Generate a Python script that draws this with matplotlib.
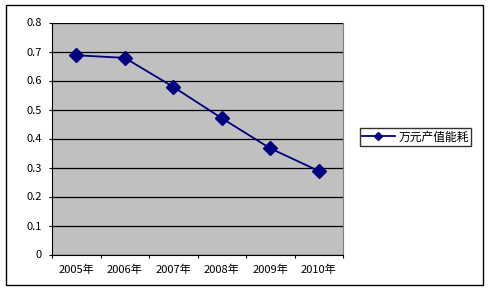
import matplotlib
matplotlib.use("Agg")
import matplotlib.pyplot as plt
from matplotlib.patches import Rectangle

plt.rcParams['font.family'] = ['Noto Sans CJK SC', 'DejaVu Sans']

categories = ["2005年", "2006年", "2007年", "2008年", "2009年", "2010年"]
values = [0.687, 0.678, 0.578, 0.47, 0.366, 0.288]
series_name = "万元产值能耗"
yticks = [0, 0.1, 0.2, 0.3, 0.4, 0.5, 0.6, 0.7, 0.8]
ytick_labels = ["0", "0.1", "0.2", "0.3", "0.4", "0.5", "0.6", "0.7", "0.8"]

W, H = 491, 291
fig = plt.figure(figsize=(W / 100, H / 100), dpi=100)
fig.patch.set_facecolor("white")

# outer chart border
fig.patches.append(Rectangle((6 / W, 1 - 285 / H), (483 - 6) / W, (285 - 5) / H,
                             transform=fig.transFigure, fill=False,
                             edgecolor="black", linewidth=1.0))

left, right, top, bottom = 52, 343, 22.5, 254.5
ax = fig.add_axes([left / W, 1 - bottom / H, (right - left) / W, (bottom - top) / H])
ax.set_facecolor("#C0C0C0")

x = [i + 0.5 for i in range(len(categories))]
line, = ax.plot(x, values, color="#000080", linewidth=1.3, marker="D",
                markersize=7, markerfacecolor="#000080", markeredgecolor="#000080",
                label=series_name, zorder=3)

ax.set_xlim(0, len(categories))
ax.set_ylim(0, 0.8)
ax.set_yticks(yticks)
ax.set_yticklabels(ytick_labels, fontsize=8)
ax.yaxis.grid(True, color="black", linewidth=0.9)
ax.set_axisbelow(True)

ax.set_xticks(range(len(categories) + 1))
ax.set_xticklabels([])
ax.set_xticks(x, minor=True)
ax.set_xticklabels(categories, minor=True, fontsize=8)
ax.tick_params(axis="x", which="minor", length=0, pad=7)
ax.tick_params(axis="x", which="major", length=2.5, direction="out", color="black")
ax.tick_params(axis="y", length=2.5, direction="out", pad=5)

ax.spines["left"].set_color("black")
ax.spines["bottom"].set_color("black")
ax.spines["top"].set_visible(False)
ax.spines["right"].set_color("#808080")

leg = fig.legend(handles=[line], labels=[series_name], loc="center",
                 bbox_to_anchor=((356 + 475) / 2 / W, 1 - 137 / H),
                 frameon=True, fancybox=False, fontsize=8.5, handlelength=2.8,
                 markerscale=0.55, borderpad=0.2, handletextpad=0.3,
                 borderaxespad=0)
leg.get_frame().set_edgecolor("black")
leg.get_frame().set_linewidth(1.0)

fig.savefig("out.png", dpi=100)
